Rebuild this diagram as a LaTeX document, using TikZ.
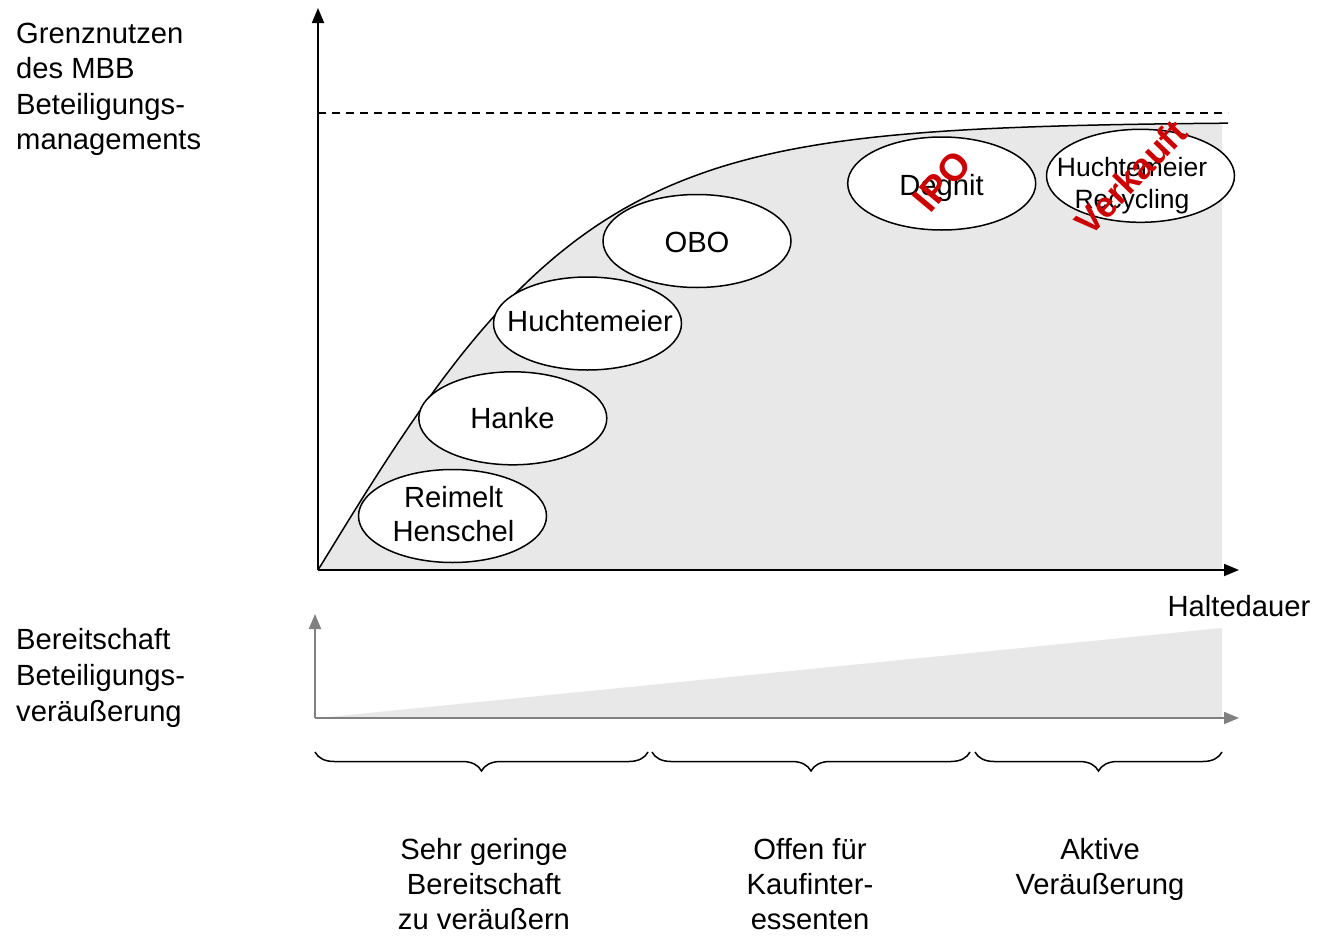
\documentclass[tikz,border=0pt]{standalone}
\usepackage{fontspec}
\setmainfont{Liberation Sans}
\usetikzlibrary{arrows.meta,decorations.pathreplacing,shapes.geometric}
\definecolor{fillgray}{RGB}{232,232,232}
\definecolor{axgray}{RGB}{128,128,128}
\definecolor{stampred}{RGB}{204,0,0}
\begin{document}
\begin{tikzpicture}[x=1pt,y=-1pt,
  axis/.style={line width=1.8pt,-{Triangle[length=15pt,width=12pt]}},
  grayaxis/.style={line width=1.8pt,draw=axgray,-{Triangle[length=15pt,width=12pt]},color=axgray},
  firm/.style={draw=black,line width=1.5pt,fill=white,ellipse,minimum width=188pt,minimum height=93pt,inner sep=0pt},
  firmtxt/.style={inner sep=0pt,align=center,font=\fontsize{29.2}{33.5}\selectfont},
  lbl/.style={inner sep=0pt,align=left,font=\fontsize{29.2}{35.6}\selectfont},
  bot/.style={inner sep=0pt,align=center,font=\fontsize{29.2}{35}\selectfont},
  stamp/.style={inner sep=0pt,text=stampred,font=\bfseries\fontsize{38}{38}\selectfont},
  bracestyle/.style={line width=1.5pt,decorate,decoration={brace,mirror,amplitude=19pt}}
]
\useasboundingbox (0,0) rectangle (1318,935);
% upper area
\begin{scope}
\clip (318,0) rectangle (1222,600);
\fill[fillgray] plot[domain=318:1228,samples=150] (\x,{570-448*tanh((\x-318)/274)}) -- (1228,570) -- (318,570) -- cycle;
\end{scope}
\draw[line width=1.5pt] plot[domain=318:1228,samples=150] (\x,{570-448*tanh((\x-318)/274)});
\coordinate (dl) at (318,113);
\coordinate (dr) at (1228,113);
\draw[line width=1.3pt,dash pattern=on 8pt off 6pt] (dl) -- (dr);
\coordinate (O) at (318,570);
\coordinate (ytop) at (318,8);
\coordinate (xend) at (1239,570);
\draw[axis] (O) -- (ytop);
\draw[axis] (O) -- (xend);
% ellipses
\node[firm] (reimelt) at (452.5,516) {};
\node[firm] (hanke) at (512.8,418.3) {};
\node[firm] (hucht) at (587.5,323.5) {};
\node[firm] (obo) at (697,241) {};
\node[firm] (degnit) at (941.7,183.5) {};
\node[firm] (recyc) at (1140.5,175.8) {};
\node[firmtxt,anchor=base] (treimelt) at (453.5,541) {Reimelt\\Henschel};
\node[firmtxt,anchor=base] (thanke) at (512.5,428.3) {Hanke};
\node[firmtxt,anchor=base] (thucht) at (590,331.7) {Huchtemeier};
\node[firmtxt,anchor=base] (tobo) at (697,252) {OBO};
\node[firmtxt,anchor=base] (tdegnit) at (941.5,195) {Degnit};
\node[inner sep=0pt,align=center,font=\fontsize{26.5}{31.7}\selectfont,anchor=base] (trecyc) at (1132,208.3) {Huchtemeier\\Recycling};
% stamps
\node[stamp,rotate=50] (ipo) at (942,181.5) {IPO};
\node[stamp,rotate=46,font=\bfseries\fontsize{36}{36}\selectfont] (verkauft) at (1131,177) {Verkauft};
% labels upper
\node[lbl,anchor=north west] (ylab) at (16,22.5) {Grenznutzen\\des MBB\\Beteiligungs-\\managements};
\node[inner sep=0pt,font=\fontsize{29.2}{34}\selectfont,anchor=base] (xlab) at (1239,616) {Haltedauer};
% lower area
\coordinate (O2) at (315,718);
\coordinate (tri1) at (318,718);
\coordinate (tri2) at (1222,628);
\coordinate (tri3) at (1222,718);
\fill[fillgray] (tri1) -- (tri2) -- (tri3) -- cycle;
\coordinate (y2top) at (315,614);
\coordinate (x2end) at (1239,718);
\draw[grayaxis] (O2) -- (y2top);
\draw[grayaxis] (O2) -- (x2end);
\node[lbl,anchor=north west] (ylab2) at (16,628.5) {Bereitschaft\\Beteiligungs-\\veräußerung};
% braces
\coordinate (b1l) at (315,752);
\coordinate (b1r) at (648,752);
\coordinate (b2l) at (652,752);
\coordinate (b2r) at (970,752);
\coordinate (b3l) at (975,752);
\coordinate (b3r) at (1222,752);
\draw[bracestyle] (b1l) -- (b1r);
\draw[bracestyle] (b2l) -- (b2r);
\draw[bracestyle] (b3l) -- (b3r);
\node[bot,anchor=north] (p1) at (484,838) {Sehr geringe\\ Bereitschaft\\zu veräußern};
\node[bot,anchor=north] (p2) at (810,838) {Offen für\\Kaufinter-\\essenten};
\node[bot,anchor=north] (p3) at (1100,838) {Aktive\\Veräußerung};
\end{tikzpicture}
\end{document}
